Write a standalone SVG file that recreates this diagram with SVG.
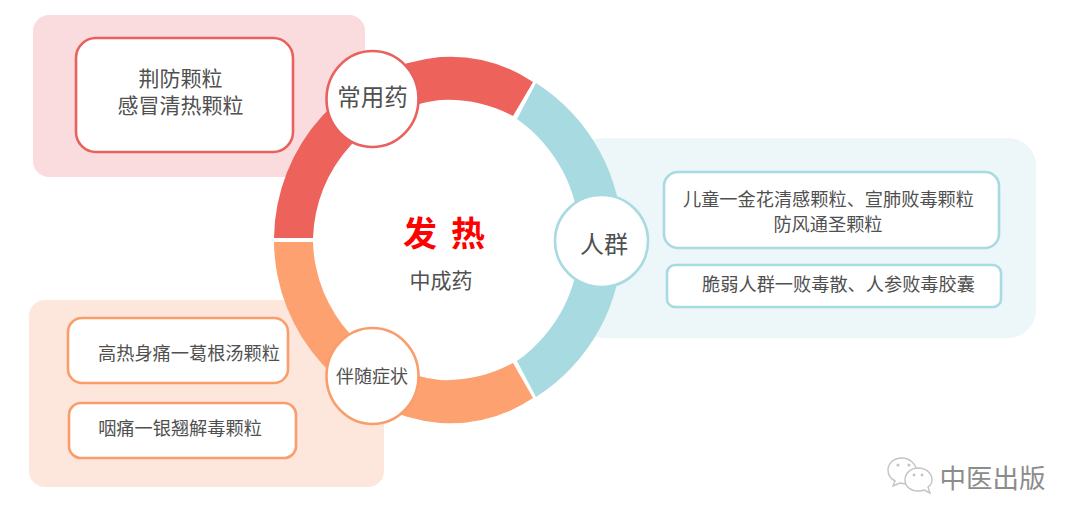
<svg xmlns="http://www.w3.org/2000/svg" width="1080" height="525" viewBox="0 0 1080 525">
<style>
text{font-family:"Noto Sans CJK SC","Liberation Sans",sans-serif;fill:#505050;text-anchor:middle}
.box{fill:#fff;stroke-width:2.6}
.dot{fill:#fff;stroke-width:2.6}
.r{stroke:#e9605d}.o{stroke:#f99d6b}.b{stroke:#a8dae1}
.t{font-size:18.2px}
.l{font-size:21px}
.bub{fill:#fff;stroke:#c4c4c4;stroke-width:1.4}
.eye{fill:#c4c4c4}
</style>
<rect width="1080" height="525" fill="#fff"/>
<g id="panels">
<rect x="33" y="15" width="332" height="162" rx="16" fill="#fbdcde"/>
<rect x="29" y="300" width="355" height="187" rx="16" fill="#fde7dd"/>
<rect x="575" y="138" width="461" height="200" rx="28" fill="#edf6f9"/>
</g>
<g id="connectors">
<path fill="#fff" d="M313 240A143 143 0 0 1 440 100A140 140 0 0 1 515 117A148 148 0 0 1 515 363A140 140 0 0 1 440 380A143 143 0 0 1 313 240Z"/>
<path fill="#ee625c" d="M274 238A184 184 0 0 1 440 57A150 150 0 0 1 533 82L513 116A140 140 0 0 0 440 100A143 143 0 0 0 313 238Z"/>
<path fill="#a8dae1" d="M536 83A186 186 0 0 1 536 397L517 361A148 148 0 0 0 517 119Z"/>
<path fill="#fca16f" d="M274 242A184 184 0 0 0 440 423A150 150 0 0 0 533 398L513 363A140 140 0 0 1 440 380A143 143 0 0 1 313 242Z"/>
</g>
<g id="center">
<text x="420 468" y="246" style="font-size:34px;font-weight:700;fill:#f00">发热</text>
<text x="441" y="288" style="font-size:21px">中成药</text>
</g>
<g id="node-drug">
<ellipse class="dot r" cx="372.5" cy="99" rx="46" ry="48"/>
<text x="372.5" y="106" style="font-size:23.5px">常用药</text>
</g>
<g id="node-people">
<ellipse class="dot b" cx="601.5" cy="241" rx="46.5" ry="46"/>
<text x="604" y="253" style="font-size:24px">人群</text>
</g>
<g id="node-symptom">
<ellipse class="dot o" cx="372.5" cy="376" rx="46" ry="48"/>
<text x="372" y="383" style="font-size:18px">伴随症状</text>
</g>
<g id="box-drug">
<rect class="box r" x="76" y="38" width="217" height="114" rx="20"/>
<text class="l" x="180.5" y="86">荆防颗粒</text>
<text class="l" x="180.5" y="113">感冒清热颗粒</text>
</g>
<g id="box-s1">
<rect class="box o" x="68" y="318" width="220" height="65" rx="14"/>
<text class="t" x="189" y="360">高热身痛一葛根汤颗粒</text>
</g>
<g id="box-s2">
<rect class="box o" x="69" y="403" width="227" height="55" rx="12"/>
<text class="t" x="180" y="435">咽痛一银翘解毒颗粒</text>
</g>
<g id="box-p1">
<rect class="box b" x="664" y="172" width="335" height="76" rx="14"/>
<text class="t" x="828.5" y="206">儿童一金花清感颗粒、宣肺败毒颗粒</text>
<text class="t" x="828" y="231">防风通圣颗粒</text>
</g>
<g id="box-p2">
<rect class="box b" x="667" y="265" width="334" height="42" rx="8"/>
<text class="t" x="838.5" y="291">脆弱人群一败毒散、人参败毒胶囊</text>
</g>
<g id="watermark">
<text x="992.5" y="488" style="font-size:26.5px;fill:#8c8c8c">中医出版</text>
<path class="bub" d="M902 458C893 458 888 464 888 470C888 475 891 479 895 481L893 486L900 483C903 484 906 484 909 483L917 472C916 464 910 458 902 458Z"/>
<path class="bub" d="M918 468C911 468 905 473 905 480C905 487 911 491 918 491C920 491 922 491 924 490L930 493L928 487C931 485 932 483 932 480C932 473 926 468 918 468Z"/>
<circle class="eye" cx="898" cy="465" r="1.6"/>
<circle class="eye" cx="909" cy="465" r="1.6"/>
<circle class="eye" cx="914" cy="475" r="1.4"/>
<circle class="eye" cx="922" cy="475" r="1.4"/>
</g>
</svg>
